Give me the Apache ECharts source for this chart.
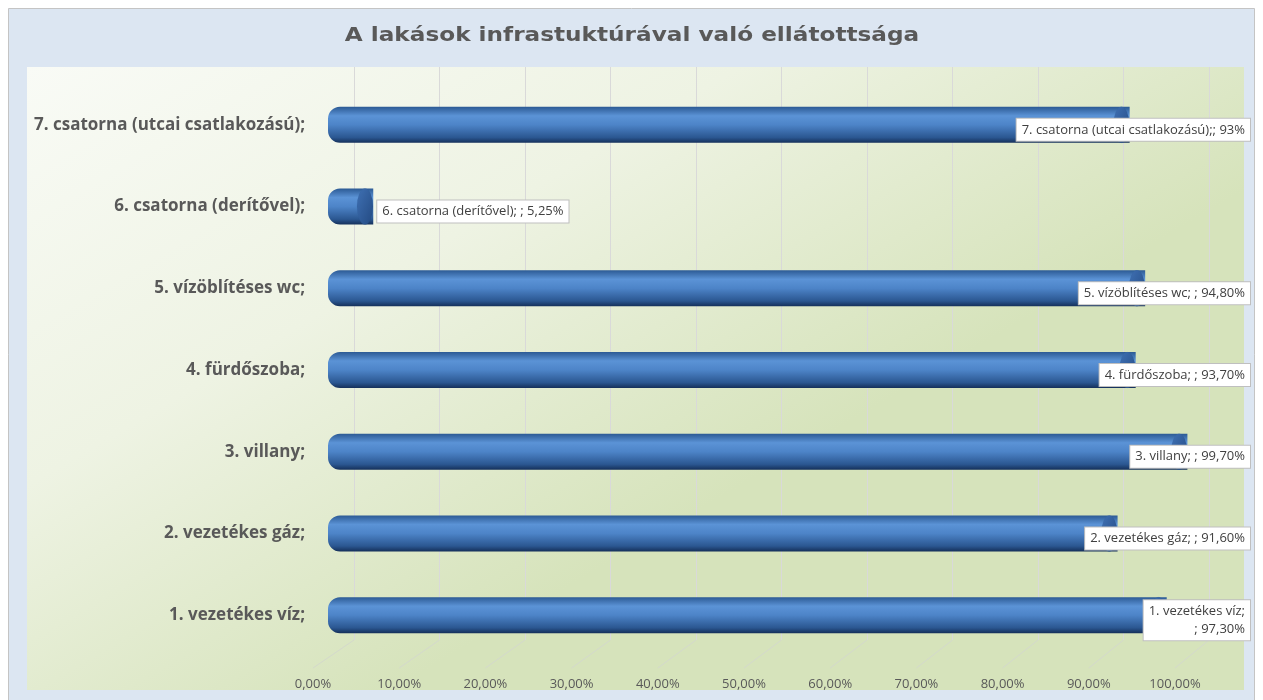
<!DOCTYPE html>
<html>
<head>
<meta charset="utf-8">
<script src="https://cdn.jsdelivr.net/npm/echarts@6/dist/echarts.min.js"></script>
<style>
  html, body { margin: 0; padding: 0; background: #ffffff; }
  #main { width: 1263px; height: 700px; }
</style>
</head>
<body>
<div id="main"></div>
<script>
// kategóriák alulról felfelé
var categories = [
    '1. vezetékes víz;',
    '2. vezetékes gáz;',
    '3. villany;',
    '4. fürdőszoba;',
    '5. vízöblítéses wc;',
    '6. csatorna (derítővel);',
    '7. csatorna (utcai csatlakozású);'
];
var values = [97.3, 91.6, 99.7, 93.7, 94.8, 5.25, 93];
var dataLabels = [
    '1. vezetékes víz;\n; 97,30%',
    '2. vezetékes gáz; ; 91,60%',
    '3. villany; ; 99,70%',
    '4. fürdőszoba; ; 93,70%',
    '5. vízöblítéses wc; ; 94,80%',
    '6. csatorna (derítővel); ; 5,25%',
    '7. csatorna (utcai csatlakozású);; 93%'
];
var tickLabels = ['0,00%', '10,00%', '20,00%', '30,00%', '40,00%', '50,00%',
                  '60,00%', '70,00%', '80,00%', '90,00%', '100,00%'];
var chartTitle = 'A lakások infrastuktúrával való ellátottsága';

var myChart = echarts.init(document.getElementById('main'));

var cylinder = {
    type: 'linear', x: 0, y: 0, x2: 0, y2: 1,
    colorStops: [
        {offset: 0, color: '#2c5a94'},
        {offset: 0.25, color: '#5b93d6'},
        {offset: 0.5, color: '#4d84c8'},
        {offset: 0.85, color: '#2b5791'},
        {offset: 1, color: '#15305a'}
    ]
};

var option = {
    animation: false,
    graphic: [
        {
            type: 'rect', z: -10, silent: true,
            shape: {x: 8.5, y: 8.5, width: 1246, height: 700},
            style: {fill: '#dce6f2', stroke: '#c4c4c4', lineWidth: 1}
        },
        {
            type: 'rect', z: -9, silent: true,
            shape: {x: 27, y: 67, width: 1217, height: 623},
            style: {
                fill: {
                    type: 'linear', x: 0, y: 0, x2: 0.3, y2: 1,
                    colorStops: [
                        {offset: 0, color: '#f9fbf6'},
                        {offset: 0.5, color: '#eef3e3'},
                        {offset: 1, color: '#d6e3bb'}
                    ]
                }
            }
        },
        {
            // cím, kicsit szélesítve
            type: 'text', z: 10, silent: true,
            x: 632, y: 36,
            scaleX: 1.22,
            style: {
                text: chartTitle,
                fontFamily: 'DejaVu Sans',
                fontWeight: 'bold',
                fontSize: 19,
                fill: '#595959',
                align: 'center',
                verticalAlign: 'middle'
            }
        }
    ],
    grid: [
        {left: 328, right: 73, top: 84, bottom: 44},
        {left: 354, right: 54, top: 67, bottom: 60}
    ],
    xAxis: [
        {
            gridIndex: 0,
            type: 'value',
            min: 0, max: 100, interval: 10,
            splitLine: {show: false},
            axisLine: {show: false},
            axisTick: {show: false},
            axisLabel: {
                margin: 22,
                padding: [0, 30, 0, 0],
                fontFamily: 'Open Sans',
                fontSize: 13,
                color: '#595959',
                formatter: function (v) { return tickLabels[Math.round(v / 10)]; }
            }
        },
        {
            gridIndex: 1,
            type: 'value',
            min: 0, max: 100, interval: 10,
            axisLine: {show: false},
            axisTick: {show: false},
            axisLabel: {show: false},
            splitLine: {lineStyle: {color: '#d9d9d9', width: 1}}
        }
    ],
    yAxis: [
        {
            gridIndex: 0,
            type: 'category',
            data: categories,
            axisLine: {show: false},
            axisTick: {show: false},
            axisLabel: {
                margin: 23,
                padding: [28, 0, 0, 0],
                fontFamily: 'Open Sans',
                fontWeight: 'bold',
                fontSize: 17,
                color: '#595959'
            }
        },
        {
            gridIndex: 1,
            type: 'value',
            show: false
        }
    ],
    series: [
        {
            name: 'ellátottság',
            type: 'bar',
            xAxisIndex: 0,
            yAxisIndex: 0,
            data: values,
            barWidth: 36,
            z: 2,
            itemStyle: {
                color: cylinder,
                borderRadius: [12, 0, 0, 12]
            }
        },
        {
            name: 'cap',
            type: 'pictorialBar',
            xAxisIndex: 0,
            yAxisIndex: 0,
            data: values,
            symbol: 'circle',
            symbolSize: [16, 36],
            symbolPosition: 'end',
            z: 3,
            silent: true,
            itemStyle: {
                color: {
                    type: 'linear', x: 0, y: 0, x2: 1, y2: 1,
                    colorStops: [
                        {offset: 0, color: '#3f70b3'},
                        {offset: 1, color: '#234a82'}
                    ]
                },
                borderColor: '#1d3d6b',
                borderWidth: 0.8
            }
        },
        {
            // csak a feliratokhoz, átlátszó
            name: 'felirat',
            type: 'bar',
            xAxisIndex: 0,
            yAxisIndex: 0,
            data: values,
            barWidth: 36,
            barGap: '-100%',
            z: 5,
            silent: true,
            itemStyle: {color: 'rgba(0,0,0,0)'},
            label: {
                show: true,
                position: 'insideRight',
                formatter: function (p) { return dataLabels[p.dataIndex]; },
                fontFamily: 'Open Sans',
                fontSize: 13,
                lineHeight: 18,
                align: 'center',
                color: '#404040',
                backgroundColor: '#ffffff',
                borderColor: '#bfbfbf',
                borderWidth: 1,
                padding: [2, 5]
            },
            labelLayout: function (params) {
                var end = params.rect.x + params.rect.width;
                var w = params.labelRect.width;
                var y = params.rect.y + params.rect.height / 2 + 5;
                if (end + 4 + w <= 1250) {
                    return {x: end + 4, y: y, align: 'left', verticalAlign: 'middle'};
                }
                return {x: 1250, y: y, align: 'right', verticalAlign: 'middle'};
            }
        }
    ]
};

myChart.setOption(option);

// padló perspektív vonalai
var floor = [];
for (var k = 0; k <= 10; k++) {
    var back = myChart.convertToPixel({xAxisIndex: 1}, k * 10);
    var front = myChart.convertToPixel({xAxisIndex: 0}, k * 10) - 15;
    floor.push({
        type: 'line', z: -5, silent: true,
        shape: {x1: back, y1: 640, x2: front, y2: 668},
        style: {stroke: '#d4d9cc', lineWidth: 1}
    });
}
myChart.setOption({graphic: option.graphic.concat(floor)});
</script>
</body>
</html>
